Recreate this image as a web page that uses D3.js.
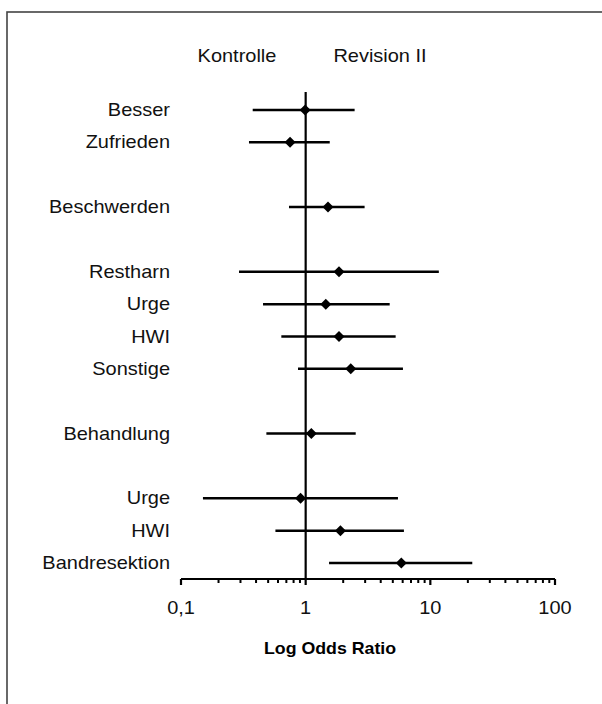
<!DOCTYPE html>
<html><head><meta charset="utf-8">
<script src="https://cdn.jsdelivr.net/npm/d3@7"></script>
<style>body{margin:0;background:#fff}svg{display:block}text{font-family:Arial,"Liberation Sans",sans-serif}</style>
</head><body><svg id="c" width="602" height="704"></svg>
<script>
const groups = [
  ["Besser","Zufrieden"],
  ["Beschwerden"],
  ["Restharn","Urge","HWI","Sonstige"],
  ["Behandlung"],
  ["Urge","HWI","Bandresektion"]
];
const estimates = [0.99, 0.75, 1.51, 1.85, 1.45, 1.85, 2.30, 1.11, 0.91, 1.90, 5.85];
const lower     = [0.376, 0.351, 0.735, 0.292, 0.455, 0.638, 0.868, 0.484, 0.150, 0.572, 1.54];
const upper     = [2.47, 1.56, 2.97, 11.7, 4.72, 5.27, 6.03, 2.52, 5.50, 6.14, 21.7];
const tickValues = [0.1, 1, 10, 100];
const tickLabels = ["0,1", "1", "10", "100"];
const headerLeft = "Kontrolle", headerRight = "Revision II";
const xTitle = "Log Odds Ratio";

const svg = d3.select("#c");
const SX = 1.11; // horizontal stretch of text

// frame
svg.append("rect").attr("x",7).attr("y",12).attr("width",620).attr("height",720)
  .attr("fill","none").attr("stroke","#444").attr("stroke-width",1.6);

// build slots
const slots = [];
const rows = [];
let k = 0;
groups.forEach((g,gi)=>{
  if(gi>0) slots.push("gap"+gi);
  g.forEach(lbl=>{ const key="r"+k; slots.push(key); rows.push({key,label:lbl,est:estimates[k],lo:lower[k],hi:upper[k]}); k++; });
});
const y = d3.scalePoint().domain(slots).range([110,563]);
const x = d3.scaleLog().domain([0.1,100]).range([181,555]);

function stext(sel, xx, yy, anchor){
  sel.attr("text-anchor",anchor)
     .attr("transform",`translate(${xx},${yy}) scale(${SX},1)`);
  return sel;
}

// headers
stext(svg.append("text").text(headerLeft).attr("font-size",18).attr("fill","#111"), 237, 62, "middle");
stext(svg.append("text").text(headerRight).attr("font-size",18).attr("fill","#111"), 380, 62, "middle");

// reference line at 1
svg.append("line").attr("x1",x(1)).attr("x2",x(1)).attr("y1",92).attr("y2",579)
  .attr("stroke","#000").attr("stroke-width",2.2);

// axis
const axisY = 579;
const gAx = svg.append("g").attr("transform",`translate(0,${axisY})`);
const minor = [];
for(let d=0.1; d<100; d*=10){ for(let m=2;m<=9;m++) minor.push(+(d*m).toPrecision(3)); }
gAx.append("line").attr("x1",x(0.1)).attr("x2",x(100)).attr("stroke","#000").attr("stroke-width",2.2);
gAx.selectAll("line.mn").data(minor).join("line").attr("class","mn")
  .attr("x1",d=>x(d)).attr("x2",d=>x(d)).attr("y1",0).attr("y2",4).attr("stroke","#000").attr("stroke-width",2);
gAx.selectAll("line.mj").data(tickValues).join("line").attr("class","mj")
  .attr("x1",d=>x(d)).attr("x2",d=>x(d)).attr("y1",0).attr("y2",6).attr("stroke","#000").attr("stroke-width",2.2);
tickValues.forEach((v,i)=>{
  stext(svg.append("text").text(tickLabels[i]).attr("font-size",18).attr("fill","#111"), x(v), 614, "middle");
});
stext(svg.append("text").text(xTitle).attr("font-size",16).attr("font-weight","bold").attr("fill","#000"), 330, 654, "middle");

// labels
rows.forEach(r=>{
  stext(svg.append("text").text(r.label).attr("font-size",18).attr("fill","#111"), 170, y(r.key)+6, "end");
});

// CI lines
svg.selectAll("line.ci").data(rows).join("line").attr("class","ci")
  .attr("x1",d=>x(d.lo)).attr("x2",d=>x(d.hi)).attr("y1",d=>y(d.key)).attr("y2",d=>y(d.key))
  .attr("stroke","#000").attr("stroke-width",2.5);
// diamonds
svg.selectAll("path.pt").data(rows).join("path").attr("class","pt")
  .attr("transform",d=>`translate(${x(d.est)},${y(d.key)})`)
  .attr("d","M0,-5.5L5.5,0L0,5.5L-5.5,0Z").attr("fill","#000");
</script></body></html>
